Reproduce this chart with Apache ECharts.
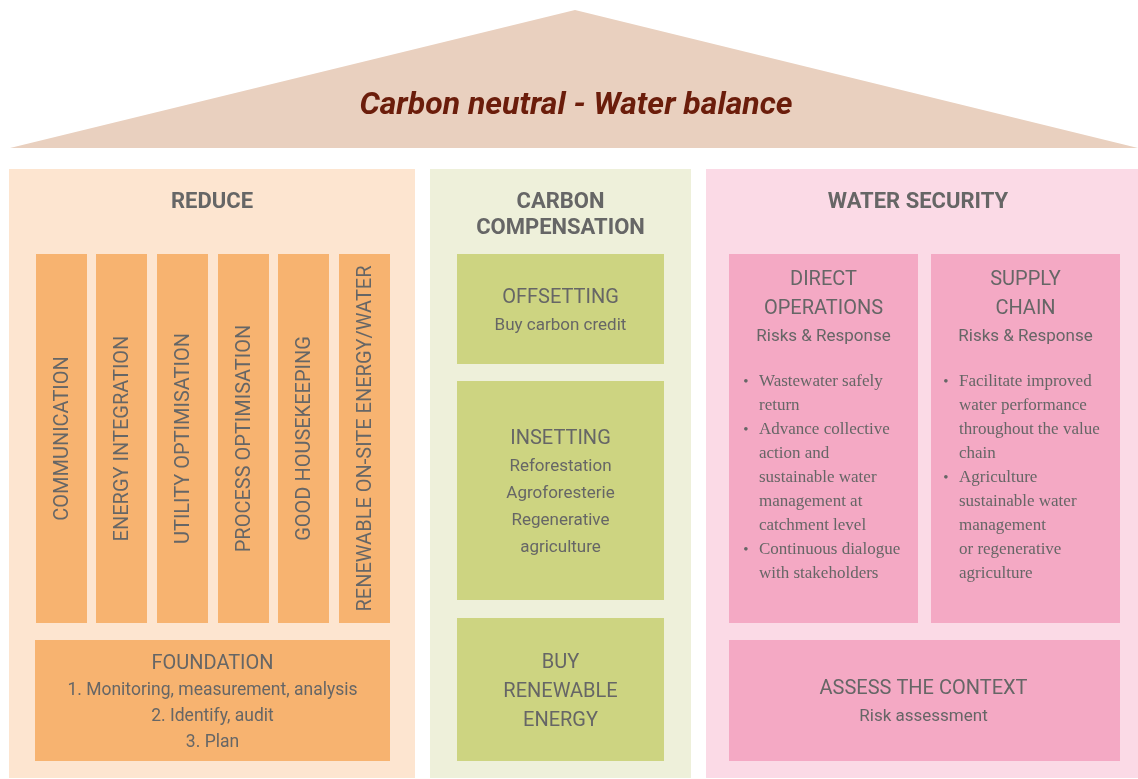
<!DOCTYPE html>
<html>
<head>
<meta charset="utf-8">
<script src="https://cdn.jsdelivr.net/npm/echarts@6/dist/echarts.min.js"></script>
<style>
  html, body { margin: 0; padding: 0; background: #fff; }
  #house { width: 1138px; height: 779px; }
</style>
</head>
<body>
<div id="house"></div>
<script>
// ---- texts ----
const roofTitle = 'Carbon neutral - Water balance';
const pillarTitles = ['REDUCE', 'CARBON\nCOMPENSATION', 'WATER SECURITY'];
const reduceLevers = ['COMMUNICATION', 'ENERGY INTEGRATION', 'UTILITY OPTIMISATION',
  'PROCESS OPTIMISATION', 'GOOD HOUSEKEEPING', 'RENEWABLE ON-SITE ENERGY/WATER'];
const foundationTitle = 'FOUNDATION';
const foundationSteps = ['1. Monitoring, measurement, analysis', '2. Identify, audit', '3. Plan'];
const compensationTitles = ['OFFSETTING', 'INSETTING', 'BUY\nRENEWABLE\nENERGY'];
const compensationNotes = [['Buy carbon credit'], ['Reforestation', 'Agroforesterie', 'Regenerative', 'agriculture'], []];
const waterTitles = ['DIRECT\nOPERATIONS', 'SUPPLY\nCHAIN'];
const waterSubtitle = 'Risks & Response';
const directBullets = [
  ['Wastewater safely', 'return'],
  ['Advance collective', 'action and', 'sustainable water', 'management at', 'catchment level'],
  ['Continuous dialogue', 'with stakeholders']
];
const supplyBullets = [
  ['Facilitate improved', 'water performance', 'throughout the value', 'chain'],
  ['Agriculture', 'sustainable water', 'management', 'or regenerative', 'agriculture']
];
const assessTitle = 'ASSESS THE CONTEXT';
const assessNote = 'Risk assessment';

// ---- house outline in chart units: [x0, y0, x1, y1] ----
const roofPoints = [[10, 148], [575, 10], [1138, 148]];
const pillarBoxes = [[9, 169, 415, 778], [430, 169, 691, 778], [706, 169, 1138, 778]];
const leverBoxes = [[36, 254, 87, 623], [96, 254, 147, 623], [157, 254, 208, 623],
  [218, 254, 269, 623], [278, 254, 329, 623], [339, 254, 390, 623]];
const foundationBox = [35, 640, 390, 761];
const compensationBoxes = [[457, 254, 664, 364], [457, 381, 664, 600], [457, 618, 664, 761]];
const waterBoxes = [[729, 254, 918, 623], [931, 254, 1120, 623]];
const assessBox = [729, 640, 1120, 761];

const pillarColors = ['#FDE5D0', '#EEF0DA', '#FBDAE6'];
const blockColors = ['#F7B370', '#CDD481', '#F4A9C4'];
const GREY = '#666666';
const SANS = 'Roboto, "Noto Sans", sans-serif';
const SERIF = '"Liberation Serif", "DejaVu Serif", serif';

function rectOf(api, color) {
  const p0 = api.coord([api.value(0), api.value(1)]);
  const p1 = api.coord([api.value(2), api.value(3)]);
  return {
    rect: { type: 'rect', shape: { x: p0[0], y: p0[1], width: p1[0] - p0[0], height: p1[1] - p0[1] }, style: { fill: color } },
    x0: p0[0], y0: p0[1], x1: p1[0], y1: p1[1], cx: (p0[0] + p1[0]) / 2, cy: (p0[1] + p1[1]) / 2
  };
}

function label(x, y, text, size, extra) {
  return {
    type: 'text', x: x, y: y,
    style: Object.assign({
      text: text, fill: GREY, fontFamily: SANS, fontSize: size,
      align: 'center', verticalAlign: 'middle'
    }, extra || {})
  };
}

const chart = echarts.init(document.getElementById('house'));

const option = {
  backgroundColor: '#ffffff',
  animation: false,
  grid: { left: 0, right: 0, top: 0, bottom: 0 },
  xAxis: { type: 'value', min: 0, max: 1138, show: false },
  yAxis: { type: 'value', min: 0, max: 779, inverse: true, show: false },
  series: [
    {
      // roof
      type: 'custom',
      data: [[0]],
      renderItem: function (params, api) {
        const pts = roofPoints.map(p => api.coord(p));
        return {
          type: 'group',
          children: [
            { type: 'polygon', shape: { points: pts }, style: { fill: '#E9D0BF' } },
            label(api.coord([576, 0])[0], api.coord([0, 106])[1], roofTitle, 32,
              { fill: '#6B1D0B', fontWeight: 'bold', fontStyle: 'italic' })
          ]
        };
      }
    },
    {
      // pillars with headings
      type: 'custom',
      data: pillarBoxes,
      encode: { x: [0, 2], y: [1, 3] },
      renderItem: function (params, api) {
        const b = rectOf(api, pillarColors[params.dataIndex]);
        const two = pillarTitles[params.dataIndex].indexOf('\n') >= 0;
        return {
          type: 'group',
          children: [
            b.rect,
            label(b.cx + (params.dataIndex === 2 ? -4 : 0), b.y0 + (two ? 46 : 33), pillarTitles[params.dataIndex], 22,
              { fontWeight: 'bold', lineHeight: 26 })
          ]
        };
      }
    },
    {
      // reduce levers, vertical text
      type: 'custom',
      data: leverBoxes,
      encode: { x: [0, 2], y: [1, 3] },
      renderItem: function (params, api) {
        const b = rectOf(api, blockColors[0]);
        const t = label(b.cx + 1, b.cy, reduceLevers[params.dataIndex], 20);
        t.rotation = Math.PI / 2;
        return { type: 'group', children: [b.rect, t] };
      }
    },
    {
      // foundation
      type: 'custom',
      data: [foundationBox],
      encode: { x: [0, 2], y: [1, 3] },
      renderItem: function (params, api) {
        const b = rectOf(api, blockColors[0]);
        const txt = '{t|' + foundationTitle + '}\n' + foundationSteps.map(s => '{l|' + s + '}').join('\n');
        return {
          type: 'group',
          children: [
            b.rect,
            label(b.cx, b.cy + 2, txt, 18, {
              rich: {
                t: { fontSize: 20, lineHeight: 29, fill: GREY, fontFamily: SANS },
                l: { fontSize: 17.5, lineHeight: 26, fill: GREY, fontFamily: SANS }
              }
            })
          ]
        };
      }
    },
    {
      // carbon compensation blocks
      type: 'custom',
      data: compensationBoxes,
      encode: { x: [0, 2], y: [1, 3] },
      renderItem: function (params, api) {
        const i = params.dataIndex;
        const b = rectOf(api, blockColors[1]);
        const title = compensationTitles[i].split('\n').map(s => '{t|' + s + '}');
        const notes = compensationNotes[i].map(s => '{l|' + s + '}');
        return {
          type: 'group',
          children: [
            b.rect,
            label(b.cx, b.cy + 2, title.concat(notes).join('\n'), 18, {
              rich: {
                t: { fontSize: 20, lineHeight: 29, fill: GREY, fontFamily: SANS },
                l: { fontSize: 17, lineHeight: 27, fill: GREY, fontFamily: SANS }
              }
            })
          ]
        };
      }
    },
    {
      // water security: direct operations / supply chain
      type: 'custom',
      data: waterBoxes,
      encode: { x: [0, 2], y: [1, 3] },
      renderItem: function (params, api) {
        const i = params.dataIndex;
        const b = rectOf(api, blockColors[2]);
        const head = waterTitles[i].split('\n').map(s => '{t|' + s + '}');
        head.push('{l|' + waterSubtitle + '}');
        const children = [
          b.rect,
          label(b.cx, b.y0 + 54, head.join('\n'), 18, {
            rich: {
              t: { fontSize: 20, lineHeight: 29, fill: GREY, fontFamily: SANS },
              l: { fontSize: 17, lineHeight: 28, fill: GREY, fontFamily: SANS }
            }
          })
        ];
        const list = i === 0 ? directBullets : supplyBullets;
        const tx = i === 0 ? 30 : 28;
        let row = 0;
        list.forEach(function (item) {
          const y = b.y0 + 128 + row * 24;
          children.push(label(b.x0 + tx - 13, y, '•', 15, { fontFamily: SERIF }));
          children.push(label(b.x0 + tx, y - 12, item.join('\n'), 17,
            { fontFamily: SERIF, align: 'left', verticalAlign: 'top', lineHeight: 24 }));
          row += item.length;
        });
        return { type: 'group', children: children };
      }
    },
    {
      // assess the context
      type: 'custom',
      data: [assessBox],
      encode: { x: [0, 2], y: [1, 3] },
      renderItem: function (params, api) {
        const b = rectOf(api, blockColors[2]);
        return {
          type: 'group',
          children: [
            b.rect,
            label(b.cx - 1, b.cy + 2, '{t|' + assessTitle + '}\n{l|' + assessNote + '}', 18, {
              rich: {
                t: { fontSize: 20, lineHeight: 28, fill: GREY, fontFamily: SANS },
                l: { fontSize: 17, lineHeight: 28, fill: GREY, fontFamily: SANS }
              }
            })
          ]
        };
      }
    }
  ]
};

chart.setOption(option);
</script>
</body>
</html>
